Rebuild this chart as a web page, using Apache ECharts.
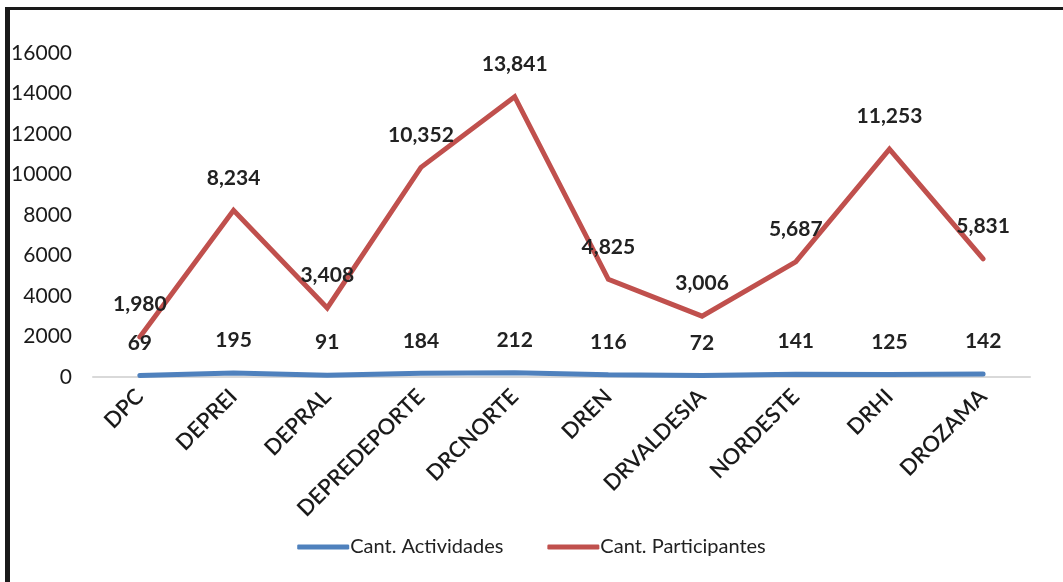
<!DOCTYPE html>
<html>
<head>
<meta charset="utf-8">
<script src="https://cdn.jsdelivr.net/npm/echarts@6/dist/echarts.min.js"></script>
<style>
  html, body { margin: 0; padding: 0; background: #fff; }
  #chart { width: 1063px; height: 582px; }
  .frame {
    position: absolute; left: 5px; top: 7px; width: 1058px; height: 575px;
    border-left: 5px solid #1a1a1a; border-top: 3px solid #1a1a1a;
    box-sizing: border-box; pointer-events: none;
  }
</style>
</head>
<body>
<div id="chart"></div>
<div class="frame"></div>
<script>
  // datos
  const categories = ['DPC', 'DEPREI', 'DEPRAL', 'DEPREDEPORTE', 'DRCNORTE', 'DREN', 'DRVALDESIA', 'NORDESTE', 'DRHI', 'DROZAMA'];
  const actividades = [69, 195, 91, 184, 212, 116, 72, 141, 125, 142];
  const participantes = [1980, 8234, 3408, 10352, 13841, 4825, 3006, 5687, 11253, 5831];

  const font = 'Lato, "Open Sans", sans-serif';
  const fmt = v => v.toLocaleString('en-US');

  const chart = echarts.init(document.getElementById('chart'));
  chart.setOption({
    animation: false,
    textStyle: { fontFamily: font },
    grid: { left: 93, right: 33, top: 53, bottom: 205 },
    legend: {
      bottom: 20,
      left: 'center',
      itemWidth: 52,
      itemHeight: 5,
      itemGap: 44,
      icon: 'roundRect',
      textStyle: { fontSize: 20, color: '#222', fontFamily: font, padding: [0, 0, 0, -4] },
      data: ['Cant. Actividades', 'Cant. Participantes']
    },
    xAxis: {
      type: 'category',
      data: categories,
      boundaryGap: true,
      axisLine: { lineStyle: { color: '#d9d9d9', width: 2 } },
      axisTick: { show: false },
      axisLabel: {
        rotate: 45,
        margin: 16,
        fontSize: 22,
        fontWeight: 600,
        color: '#1a1a1a',
        interval: 0
      }
    },
    yAxis: {
      type: 'value',
      min: 0,
      max: 16000,
      interval: 2000,
      axisLine: { show: false },
      axisTick: { show: false },
      splitLine: { show: false },
      axisLabel: { fontSize: 21, color: '#1a1a1a', margin: 21, formatter: v => String(v) }
    },
    series: [
      {
        name: 'Cant. Actividades',
        type: 'line',
        data: actividades,
        showSymbol: true,
        symbol: 'circle',
        symbolSize: 0,
        lineStyle: { color: '#4f81bd', width: 5, cap: 'round' },
        itemStyle: { color: '#4f81bd' },
        label: {
          show: true, position: 'top', distance: 22,
          fontSize: 21, fontWeight: 'bold', color: '#222',
          formatter: p => fmt(p.value)
        },
        z: 3
      },
      {
        name: 'Cant. Participantes',
        type: 'line',
        data: participantes,
        showSymbol: true,
        symbol: 'circle',
        symbolSize: 0,
        lineStyle: { color: '#c0504d', width: 5, cap: 'round', join: 'miter' },
        itemStyle: { color: '#c0504d' },
        label: {
          show: true, position: 'top', distance: 22,
          fontSize: 21, fontWeight: 'bold', color: '#222',
          formatter: p => fmt(p.value)
        },
        z: 2
      }
    ]
  });
</script>
</body>
</html>
